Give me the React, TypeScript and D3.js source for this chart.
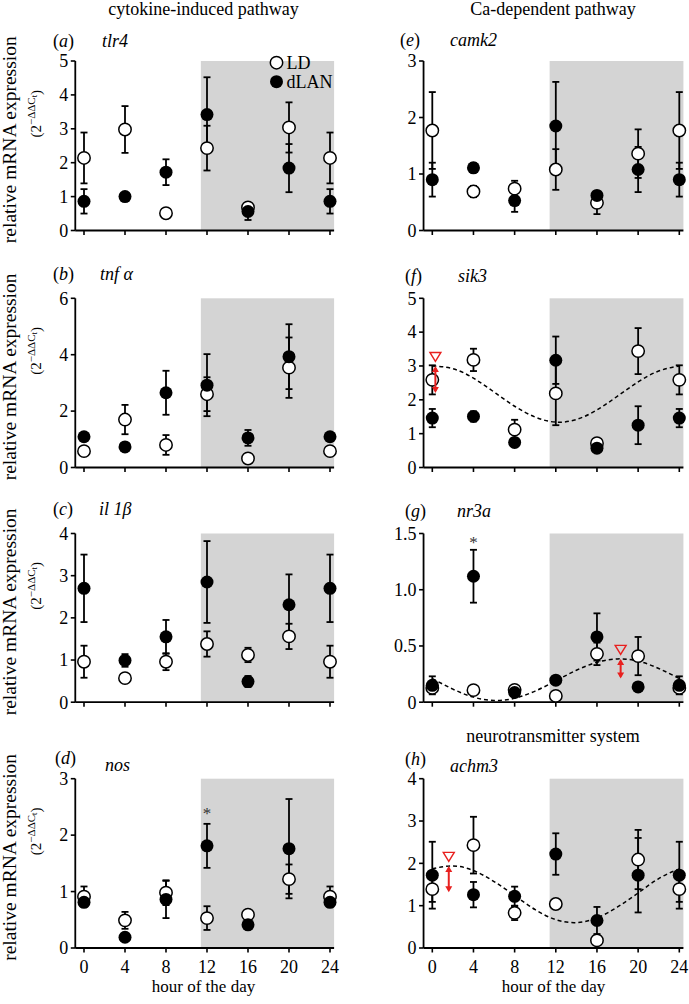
import React from "react";
import * as d3 from "d3";

// ---------- data ----------
const hours = [0, 4, 8, 12, 16, 20, 24];
const fitHours = [0, 2, 4, 6, 8, 10, 12, 14, 16, 18, 20, 22, 24];
const xTickLabels = ["0", "4", "8", "12", "16", "20", "24"];

// (a) tlr4
const tlr4LD = [2.14, 2.98, 0.51, 2.43, 0.68, 3.04, 2.14];
const tlr4LDErr = [0.75, 0.69, 0.04, 0.66, 0.1, 0.74, 0.75];
const tlr4DLAN = [0.86, 1.0, 1.72, 3.42, 0.56, 1.84, 0.86];
const tlr4DLANErr = [0.36, 0.04, 0.38, 1.1, 0.25, 0.71, 0.36];

// (b) tnf alpha
const tnfLD = [0.58, 1.7, 0.8, 2.6, 0.32, 3.54, 0.58];
const tnfLDErr = [0.04, 0.52, 0.35, 0.6, 0.04, 1.07, 0.04];
const tnfDLAN = [1.09, 0.73, 2.65, 2.92, 1.05, 3.93, 1.09];
const tnfDLANErr = [0.04, 0.12, 0.78, 1.1, 0.28, 1.15, 0.04];

// (c) il 1beta
const il1bLD = [0.96, 0.57, 0.96, 1.38, 1.12, 1.56, 0.96];
const il1bLDErr = [0.38, 0.03, 0.2, 0.3, 0.17, 0.3, 0.38];
const il1bDLAN = [2.7, 0.99, 1.55, 2.85, 0.49, 2.31, 2.7];
const il1bDLANErr = [0.8, 0.15, 0.4, 0.97, 0.13, 0.72, 0.8];

// (d) nos
const nosLD = [0.91, 0.49, 0.98, 0.53, 0.59, 1.22, 0.91];
const nosLDErr = [0.18, 0.15, 0.22, 0.21, 0.03, 0.26, 0.18];
const nosDLAN = [0.81, 0.19, 0.86, 1.81, 0.41, 1.76, 0.81];
const nosDLANErr = [0.07, 0.03, 0.33, 0.39, 0.03, 0.88, 0.07];

// (e) camk2
const camk2LD = [1.77, 0.69, 0.74, 1.08, 0.49, 1.36, 1.77];
const camk2LDErr = [0.68, 0.1, 0.14, 0.36, 0.2, 0.43, 0.68];
const camk2DLAN = [0.9, 1.11, 0.53, 1.85, 0.62, 1.08, 0.9];
const camk2DLANErr = [0.3, 0.08, 0.2, 0.78, 0.04, 0.4, 0.3];

// (f) sik3
const sik3LD = [2.59, 3.18, 1.12, 2.19, 0.72, 3.44, 2.59];
const sik3LDErr = [0.43, 0.33, 0.29, 0.94, 0.04, 0.68, 0.43];
const sik3DLAN = [1.46, 1.51, 0.74, 3.17, 0.57, 1.25, 1.46];
const sik3DLANErr = [0.27, 0.15, 0.12, 0.7, 0.04, 0.56, 0.27];
const sik3Fit = [3.0, 2.92, 2.64, 2.23, 1.81, 1.49, 1.34, 1.42, 1.7, 2.11, 2.53, 2.85, 3.0];
const sik3Peak = { hour: 0.3, value: 3.0, low: 2.2 };

// (g) nr3a
const nr3aLD = [0.127, 0.107, 0.11, 0.056, 0.43, 0.41, 0.127];
const nr3aLDErr = [0.03, 0.02, 0.02, 0.01, 0.1, 0.17, 0.03];
const nr3aDLAN = [0.15, 1.12, 0.086, 0.196, 0.58, 0.136, 0.15];
const nr3aDLANErr = [0.08, 0.235, 0.02, 0.02, 0.21, 0.02, 0.08];
const nr3aFit = [0.21, 0.116, 0.045, 0.015, 0.035, 0.099, 0.19, 0.284, 0.355, 0.385, 0.365, 0.3, 0.21];
const nr3aPeak = { hour: 18.3, value: 0.385, low: 0.21 };

// (h) achm3
const achm3LD = [1.39, 2.43, 0.83, 1.04, 0.18, 2.09, 1.39];
const achm3LDErr = [0.3, 0.67, 0.17, 0.05, 0.05, 0.7, 0.3];
const achm3DLAN = [1.72, 1.26, 1.22, 2.22, 0.65, 1.72, 1.72];
const achm3DLANErr = [0.79, 0.3, 0.23, 0.49, 0.32, 0.88, 0.79];
const achm3Fit = [1.87, 1.94, 1.83, 1.57, 1.24, 0.905, 0.67, 0.6, 0.71, 0.97, 1.3, 1.64, 1.87];
const achm3Peak = { hour: 1.6, value: 1.94, low: 1.32 };

// ---------- layout ----------
const FONT = "'Liberation Serif', 'Times New Roman', serif";
const RED = "#e8201f";
const SHADE = "#d4d4d4";
const cols = [
  { x0: 84, x24: 330 },
  { x0: 432.3, x24: 679.3 },
];
const rows = [
  [61, 230.5],
  [298.3, 467.5],
  [533.5, 702.2],
  [778.7, 948],
];

type PanelDef = {
  letter: string;
  gene: string;
  col: number;
  row: number;
  ticks: number[];
  tickFmt?: (v: number) => string;
  ld: number[];
  ldErr: number[];
  dl: number[];
  dlErr: number[];
  fit?: number[];
  peak?: { hour: number; value: number; low: number };
  star?: { hour: number; value: number };
  labelPos: [number, number];
  genePos: [number, number];
  legend?: boolean;
};

const panels: PanelDef[] = [
  { letter: "a", gene: "tlr4", col: 0, row: 0, ticks: [0, 1, 2, 3, 4, 5], ld: tlr4LD, ldErr: tlr4LDErr, dl: tlr4DLAN, dlErr: tlr4DLANErr, labelPos: [53, 47], genePos: [102, 47], legend: true },
  { letter: "b", gene: "tnf α", col: 0, row: 1, ticks: [0, 2, 4, 6], ld: tnfLD, ldErr: tnfLDErr, dl: tnfDLAN, dlErr: tnfDLANErr, labelPos: [53, 280], genePos: [100, 280] },
  { letter: "c", gene: "il 1β", col: 0, row: 2, ticks: [0, 1, 2, 3, 4], ld: il1bLD, ldErr: il1bLDErr, dl: il1bDLAN, dlErr: il1bDLANErr, labelPos: [53, 515], genePos: [99, 515] },
  { letter: "d", gene: "nos", col: 0, row: 3, ticks: [0, 1, 2, 3], ld: nosLD, ldErr: nosLDErr, dl: nosDLAN, dlErr: nosDLANErr, star: { hour: 12, value: 2.29 }, labelPos: [55, 764], genePos: [105, 771] },
  { letter: "e", gene: "camk2", col: 1, row: 0, ticks: [0, 1, 2, 3], ld: camk2LD, ldErr: camk2LDErr, dl: camk2DLAN, dlErr: camk2DLANErr, labelPos: [400, 46], genePos: [450, 46] },
  { letter: "f", gene: "sik3", col: 1, row: 1, ticks: [0, 1, 2, 3, 4, 5], ld: sik3LD, ldErr: sik3LDErr, dl: sik3DLAN, dlErr: sik3DLANErr, fit: sik3Fit, peak: sik3Peak, labelPos: [405, 282], genePos: [458, 282] },
  { letter: "g", gene: "nr3a", col: 1, row: 2, ticks: [0, 0.5, 1.0, 1.5], tickFmt: (v) => (v === 0 ? "0" : d3.format(".1f")(v)), ld: nr3aLD, ldErr: nr3aLDErr, dl: nr3aDLAN, dlErr: nr3aDLANErr, fit: nr3aFit, peak: nr3aPeak, star: { hour: 4, value: 1.367 }, labelPos: [405, 517], genePos: [457, 517] },
  { letter: "h", gene: "achm3", col: 1, row: 3, ticks: [0, 1, 2, 3, 4], ld: achm3LD, ldErr: achm3LDErr, dl: achm3DLAN, dlErr: achm3DLANErr, fit: achm3Fit, peak: achm3Peak, labelPos: [405, 765], genePos: [450, 772] },
];

const R = 6.2;
const CAP = 3.5;

function Panel({ p }: { p: PanelDef }) {
  const c = cols[p.col];
  const [top, bottom] = rows[p.row];
  const ymax = p.ticks[p.ticks.length - 1];
  const x = d3.scaleLinear().domain([0, 24]).range([c.x0, c.x24]);
  const y = d3.scaleLinear().domain([0, ymax]).range([bottom, top]);
  const axisX = x(-0.85);
  const rightX = x(24.4);
  const fmt = p.tickFmt || ((v: number) => String(v));
  const isBottom = p.row === 3;

  const errBars = (vals: number[], errs: number[], key: string) =>
    hours.map((h, i) => {
      const cx = x(h);
      const y1 = y(vals[i] + errs[i]);
      const y2 = y(Math.max(0, vals[i] - errs[i]));
      return (
        <g key={key + i} stroke="#000" strokeWidth={1.8}>
          <line x1={cx} x2={cx} y1={y1} y2={y2} />
          <line x1={cx - CAP} x2={cx + CAP} y1={y1} y2={y1} />
          <line x1={cx - CAP} x2={cx + CAP} y1={y2} y2={y2} />
        </g>
      );
    });

  const fitLine = p.fit
    ? d3
        .line<number>()
        .x((_, i) => x(fitHours[i]))
        .y((v) => y(v))
        .curve(d3.curveNatural)(p.fit)
    : null;

  let peakEls: React.ReactNode = null;
  if (p.peak) {
    const px = x(p.peak.hour);
    const py = y(p.peak.value);
    const ly = y(p.peak.low);
    const cy = py - 9;
    const ah = 6;
    const aw = 3.5;
    peakEls = (
      <g>
        <path
          d={`M${px - 5.5},${cy - 4.5}L${px + 5.5},${cy - 4.5}L${px},${cy + 4.5}Z`}
          fill="none"
          stroke={RED}
          strokeWidth={1.4}
        />
        <line x1={px} x2={px} y1={py + 2} y2={ly - 2} stroke={RED} strokeWidth={2} />
        <path d={`M${px - aw},${py + ah}L${px + aw},${py + ah}L${px},${py}Z`} fill={RED} />
        <path d={`M${px - aw},${ly - ah}L${px + aw},${ly - ah}L${px},${ly}Z`} fill={RED} />
      </g>
    );
  }

  return (
    <g>
      <rect x={x(11.4)} y={top} width={rightX - x(11.4)} height={bottom - top} fill={SHADE} />
      {/* axes */}
      <line x1={axisX} x2={axisX} y1={top} y2={bottom} stroke="#000" strokeWidth={1.8} />
      <line x1={axisX} x2={rightX} y1={bottom} y2={bottom} stroke="#000" strokeWidth={1.8} />
      {p.ticks.map((t) => (
        <g key={"yt" + t}>
          <line x1={axisX - 4.5} x2={axisX} y1={y(t)} y2={y(t)} stroke="#000" strokeWidth={1.6} />
          <text x={axisX - 7} y={y(t)} dy="0.35em" textAnchor="end" fontSize={18} fontFamily={FONT}>
            {fmt(t)}
          </text>
        </g>
      ))}
      {hours.map((h, i) => (
        <g key={"xt" + h}>
          <line x1={x(h)} x2={x(h)} y1={bottom} y2={bottom + 4.5} stroke="#000" strokeWidth={1.6} />
          {isBottom && (
            <text x={x(h)} y={973} textAnchor="middle" fontSize={18} fontFamily={FONT}>
              {xTickLabels[i]}
            </text>
          )}
        </g>
      ))}
      {fitLine && <path d={fitLine} fill="none" stroke="#000" strokeWidth={1.5} strokeDasharray="4,3" />}
      {errBars(p.ld, p.ldErr, "le")}
      {errBars(p.dl, p.dlErr, "de")}
      {hours.map((h, i) => (
        <circle key={"ld" + i} cx={x(h)} cy={y(p.ld[i])} r={R} fill="#fff" stroke="#000" strokeWidth={1.5} />
      ))}
      {hours.map((h, i) => (
        <circle key={"dl" + i} cx={x(h)} cy={y(p.dl[i])} r={R + 0.3} fill="#000" />
      ))}
      {peakEls}
      {p.star && (
        <text x={x(p.star.hour)} y={y(p.star.value)} textAnchor="middle" fontSize={17} fill="#333" fontFamily={FONT}>
          *
        </text>
      )}
      <text x={p.labelPos[0]} y={p.labelPos[1]} fontSize={18} fontFamily={FONT}>
        (<tspan fontStyle="italic">{p.letter}</tspan>)
      </text>
      <text x={p.genePos[0]} y={p.genePos[1]} fontSize={18} fontStyle="italic" fontFamily={FONT}>
        {p.gene}
      </text>
      {p.legend && (
        <g fontFamily={FONT} fontSize={18}>
          <circle cx={276.5} cy={62.7} r={R} fill="#fff" stroke="#000" strokeWidth={1.5} />
          <text x={286.5} y={68.5}>LD</text>
          <circle cx={276.5} cy={81.7} r={R + 0.3} fill="#000" />
          <text x={286.5} y={87.5}>dLAN</text>
        </g>
      )}
      {p.col === 0 && (
        <g fontFamily={FONT}>
          <text
            transform={`translate(16,${(top + bottom) / 2 - 6}) rotate(-90)`}
            textAnchor="middle"
            fontSize={19.5}
          >
            relative mRNA expression
          </text>
          <text
            transform={`translate(41,${(top + bottom) / 2 - 32}) rotate(-90)`}
            textAnchor="middle"
            fontSize={15}
          >
            (2
            <tspan fontSize={11} dy={-6}>
              −ΔΔC
            </tspan>
            <tspan fontSize={8.5} dy={2}>
              t
            </tspan>
            <tspan dy={4}>)</tspan>
          </text>
        </g>
      )}
    </g>
  );
}

export default function App() {
  return (
    <svg
      width={689}
      height={1004}
      style={{ position: "absolute", left: 0, top: 0, background: "#fff" }}
      fontFamily={FONT}
    >
      <rect width={689} height={1004} fill="#fff" />
      <text x={203.5} y={15} textAnchor="middle" fontSize={18}>
        cytokine-induced pathway
      </text>
      <text x={553} y={15} textAnchor="middle" fontSize={18}>
        Ca-dependent pathway
      </text>
      <text x={553} y={742} textAnchor="middle" fontSize={18}>
        neurotransmitter system
      </text>
      {panels.map((p) => (
        <Panel key={p.letter} p={p} />
      ))}
      <text x={203.5} y={992} textAnchor="middle" fontSize={17}>
        hour of the day
      </text>
      <text x={553.5} y={992} textAnchor="middle" fontSize={17}>
        hour of the day
      </text>
    </svg>
  );
}
